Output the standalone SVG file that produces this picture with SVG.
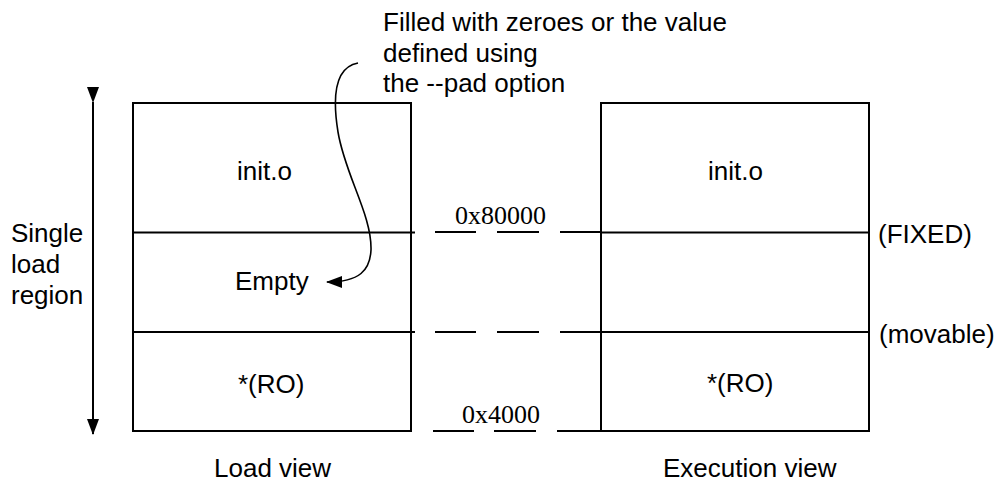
<svg xmlns="http://www.w3.org/2000/svg" width="998" height="486" viewBox="0 0 998 486">
<style>
  .t { font-family: "Liberation Sans", Arial, sans-serif; font-size: 26px; fill: #000; }
  .hex { font-family: "Liberation Serif", "Times New Roman", serif; font-size: 26px; fill: #000; }
  .box { fill: #fff; stroke: #000; stroke-width: 2; }
  .ln { stroke: #000; stroke-width: 2; fill: none; }
  .curve { stroke: #000; stroke-width: 1.6; fill: none; }
</style>
<defs>
  <marker id="ah" markerWidth="16" markerHeight="12" refX="15" refY="6" orient="auto" markerUnits="userSpaceOnUse">
    <path d="M0,0 L16,6 L0,12 Z" fill="#000"/>
  </marker>
</defs>
<rect width="998" height="486" fill="#fff"/>

<g id="load-view">
  <rect class="box" x="133" y="103" width="278" height="328"/>
  <line class="ln" x1="133" y1="232.5" x2="415" y2="232.5"/>
  <line class="ln" x1="133" y1="332" x2="415" y2="332"/>
  <text class="t" x="237" y="180">init.o</text>
  <text class="t" x="235" y="290">Empty</text>
  <text class="t" x="238" y="393">*(RO)</text>
  <text class="t" x="214" y="477">Load view</text>
</g>

<g id="execution-view">
  <rect class="box" x="601" y="103" width="268" height="328"/>
  <line class="ln" x1="601" y1="232.5" x2="869" y2="232.5"/>
  <line class="ln" x1="601" y1="332" x2="869" y2="332"/>
  <text class="t" x="708" y="180">init.o</text>
  <text class="t" x="707" y="392">*(RO)</text>
  <text class="t" x="878" y="243">(FIXED)</text>
  <text class="t" x="879" y="343">(movable)</text>
  <text class="t" x="663" y="477">Execution view</text>
</g>

<g id="region-label">
  <text class="t" x="11" y="242">Single</text>
  <text class="t" x="11" y="273">load</text>
  <text class="t" x="11" y="304">region</text>
</g>

<g id="pad-note">
  <text class="t" x="383" y="31">Filled with zeroes or the value</text>
  <text class="t" x="383" y="62">defined using</text>
  <text class="t" x="383" y="92">the --pad option</text>
</g>

<g id="addresses">
  <text class="hex" x="455" y="224">0x80000</text>
  <text class="hex" x="462" y="423">0x4000</text>
</g>

<g id="connectors">
  <line class="ln" x1="93" y1="102" x2="93" y2="434" marker-start="url(#ah)" marker-end="url(#ah)"/>
  <path class="curve" d="M358,63 C336,67 332,95 338,132 C345,175 372,215 371,250 C370,270 360,282 327,282" marker-end="url(#ah)"/>
  <line class="ln" x1="435" y1="232" x2="476" y2="232"/>
  <line class="ln" x1="497" y1="232" x2="539" y2="232"/>
  <line class="ln" x1="560" y1="232" x2="601" y2="232"/>
  <line class="ln" x1="435" y1="332" x2="476" y2="332"/>
  <line class="ln" x1="497" y1="332" x2="539" y2="332"/>
  <line class="ln" x1="560" y1="332" x2="601" y2="332"/>
  <line class="ln" x1="433" y1="431" x2="474" y2="431"/>
  <line class="ln" x1="494" y1="431" x2="536" y2="431"/>
  <line class="ln" x1="557" y1="431" x2="601" y2="431"/>
</g>
</svg>
